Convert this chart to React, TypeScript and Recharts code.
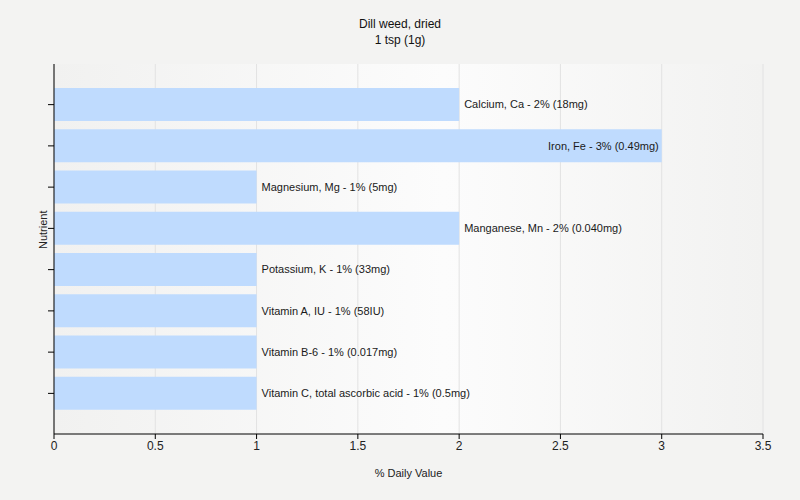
import React from "react";
import {
  BarChart,
  Bar,
  XAxis,
  YAxis,
  CartesianGrid,
  LabelList,
} from "recharts";

const nutrients = [
  "Calcium, Ca",
  "Iron, Fe",
  "Magnesium, Mg",
  "Manganese, Mn",
  "Potassium, K",
  "Vitamin A, IU",
  "Vitamin B-6",
  "Vitamin C, total ascorbic acid",
];
const dailyValues = [2, 3, 1, 2, 1, 1, 1, 1];
const amounts = ["18mg", "0.49mg", "5mg", "0.040mg", "33mg", "58IU", "0.017mg", "0.5mg"];
const xTicks = [0, 0.5, 1, 1.5, 2, 2.5, 3, 3.5];

const data = nutrients.map((name, i) => ({
  name,
  value: dailyValues[i],
  label: `${name} - ${dailyValues[i]}% (${amounts[i]})`,
}));

const FONT = "'Liberation Sans', Arial, sans-serif";
const PLOT_RIGHT = 763;

const BarLabel = (props: any) => {
  const { x, y, width, height, value } = props;
  const textW = String(value).length * 5.3;
  const end = x + width;
  const inside = end + 4 + textW > PLOT_RIGHT;
  return (
    <text
      x={inside ? end - 3 : end + 5}
      y={y + height / 2}
      dy="0.35em"
      textAnchor={inside ? "end" : "start"}
      fontSize={11}
      fontFamily={FONT}
      fill="#1a1a1a"
    >
      {value}
    </text>
  );
};

export default function App() {
  return (
    <div
      style={{
        position: "absolute",
        left: 0,
        top: 0,
        width: 800,
        height: 500,
        background: "#f3f3f2",
        fontFamily: FONT,
      }}
    >
      <div
        style={{
          position: "absolute",
          top: 16,
          width: 800,
          textAlign: "center",
          fontSize: 12,
          lineHeight: "16px",
          color: "#111",
        }}
      >
        Dill weed, dried
        <br />1 tsp (1g)
      </div>
      <BarChart
        width={800}
        height={500}
        data={data}
        layout="vertical"
        margin={{ top: 64, right: 37, bottom: 26, left: 48 }}
        barSize={33}
      >
        <defs>
          <linearGradient id="plotBg" x1="0" y1="0" x2="1" y2="0">
            <stop offset="0%" stopColor="#f1f1f0" />
            <stop offset="55%" stopColor="#fcfcfc" />
            <stop offset="100%" stopColor="#f2f2f1" />
          </linearGradient>
        </defs>
        <CartesianGrid
          horizontal={false}
          stroke="#e2e2e2"
          fill="url(#plotBg)"
          fillOpacity={1}
        />
        <XAxis
          type="number"
          domain={[0, 3.5]}
          ticks={xTicks}
          allowDataOverflow
          stroke="#000"
          tickLine={{ stroke: "#000" }}
          tickSize={5}
          height={40}
          tick={{ fill: "#222", fontSize: 12, fontFamily: FONT }}
          label={{
            value: "% Daily Value",
            position: "insideBottom",
            offset: -3,
            fill: "#222",
            fontSize: 11,
            fontFamily: FONT,
          }}
        />
        <YAxis
          type="category"
          dataKey="name"
          width={6}
          stroke="#000"
          tickLine={{ stroke: "#000" }}
          tickSize={6}
          padding={{ top: 20, bottom: 20 }}
          tick={() => <g />}
          label={{
            value: "Nutrient",
            angle: -90,
            position: "insideLeft",
            offset: 0,
            dx: -5,
            fill: "#222",
            fontSize: 11,
            fontFamily: FONT,
          }}
        />
        <Bar dataKey="value" fill="#bfdbfe" isAnimationActive={false}>
          <LabelList dataKey="label" content={<BarLabel />} />
        </Bar>
      </BarChart>
    </div>
  );
}
